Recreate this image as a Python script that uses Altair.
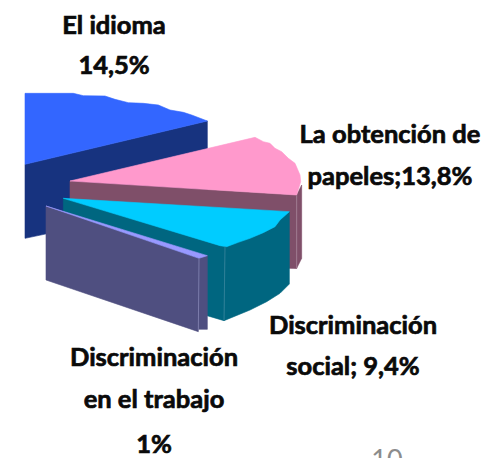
import altair as alt
import pandas as pd

# Outlines, in picture pixels: (x, y)
def z(points):
    return [(a / 3, b / 3 + 80) for a, b in points]

BLUE_SIDE = z([(75,253),(622,123),(622,360),(75,475)])
BLUE_TOP = z([(75,40),(220,40),(250,47),(315,48),(345,58),(385,68),(430,70),(475,75),(510,90),(550,97),(575,105),(622,123),(75,253)])
PINK_SIDE_RIGHT = z([(890,345),(905,315),(905,535),(890,565),(860,565)])
PINK_SIDE = z([(210,303),(890,345),(890,565),(210,500)])
PINK_TOP = z([(210,303),(765,172),(790,185),(810,190),(825,205),(845,215),(865,235),(885,250),(900,285),(902,305),(890,345)])
TEAL_LEFT = z([(190,355),(675,500),(672,722),(190,580)])
TEAL_RIGHT = z([(675,500),(715,487),(750,475),(790,458),(825,440),(840,420),(868,395),(868,612),(840,640),(800,665),(750,690),(672,722)])
CYAN_TOP = z([(190,355),(868,395),(840,420),(825,440),(790,458),(750,475),(715,487),(680,500),(660,497)])
VIOLET_RIGHT = z([(597,535),(622,527),(622,748),(595,748)])
VIOLET_FACE = z([(138,378),(597,535),(595,755),(138,600)])
VIOLET_TOP = z([(138,378),(622,527),(597,535)])

SHAPES = [
    (BLUE_SIDE, "#17337f"), (BLUE_TOP, "#3366ff"),
    (PINK_SIDE_RIGHT, "#7f4f69"), (PINK_SIDE, "#7f4f69"), (PINK_TOP, "#ff99cc"),
    (TEAL_LEFT, "#006680"), (TEAL_RIGHT, "#006680"), (CYAN_TOP, "#00ccff"),
    (VIOLET_RIGHT, "#4f4f80"), (VIOLET_FACE, "#4f4f80"), (VIOLET_TOP, "#9999ff"),
]

EDGES = [
    (z([(675,500),(672,722)]), "#2f8098"),
    (z([(597,535),(595,750)]), "#7c7cab"),
    (z([(890,345),(890,565)]), "#a07d92"),
]

LABEL_TEXT = ["El idioma", "14,5%", "La obtención de", "papeles;13,8%",
              "Discriminación", "social; 9,4%", "Discriminación", "en el trabajo", "1%"]
LABEL_X = [114, 114, 390, 390, 353, 353, 154, 154, 154]
LABEL_Y = [26, 66, 135, 177, 326, 367, 358, 400, 445]

PAGE_TEXT = ["10"]
PAGE_X = [387]
PAGE_Y = [461]

xs = alt.Scale(domain=[8, 489], range=[0, 481])
ys = alt.Scale(domain=[8, 458], range=[0, 450])
X = alt.X("x:Q", scale=xs, axis=None)
Y = alt.Y("y:Q", scale=ys, axis=None)

layers = []
for pts, col in SHAPES:
    d = pd.DataFrame({"x": [p[0] for p in pts], "y": [p[1] for p in pts], "i": range(len(pts))})
    layers.append(alt.Chart(d).mark_line(filled=True, fill=col, stroke=col, strokeWidth=0.6,
                                         interpolate="linear-closed", clip=False)
                  .encode(x=X, y=Y, order="i:Q"))
for pts, col in EDGES:
    d = pd.DataFrame({"x": [p[0] for p in pts], "y": [p[1] for p in pts], "i": range(len(pts))})
    layers.append(alt.Chart(d).mark_line(stroke=col, strokeWidth=1)
                  .encode(x=X, y=Y, order="i:Q"))

labels = pd.DataFrame({"t": LABEL_TEXT, "x": LABEL_X, "y": LABEL_Y})
layers.append(alt.Chart(labels).mark_text(font="Lato", fontWeight="bold", fontSize=25.5, color="#0a0a0a",
                                          stroke="#0a0a0a", strokeWidth=0.7,
                                          align="center", baseline="middle")
              .encode(x=X, y=Y, text="t:N"))
page = pd.DataFrame({"t": PAGE_TEXT, "x": PAGE_X, "y": PAGE_Y})
layers.append(alt.Chart(page).mark_text(font="Lato", fontSize=27, color="#8c8c8c",
                                        align="center", baseline="middle")
              .encode(x=X, y=Y, text="t:N"))

chart = alt.layer(*layers).properties(
    width=481, height=450, padding=0,
    autosize=alt.AutoSizeParams(type="none", contains="content"),
).configure_view(stroke=None)

chart.save("out.html", embed_options={"renderer": "svg", "actions": False})
